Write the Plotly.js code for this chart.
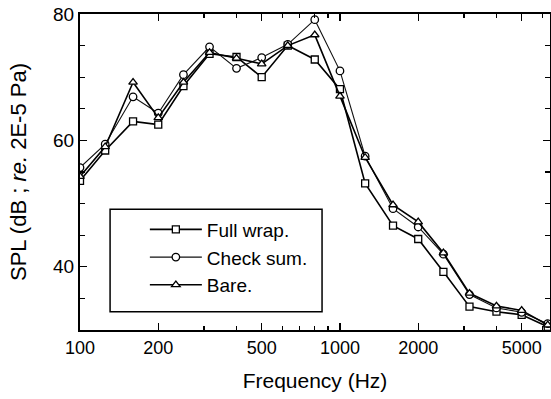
<!DOCTYPE html>
<html>
<head>
<meta charset="utf-8">
<script src="https://cdn.plot.ly/plotly-3.0.1.min.js"></script>
<style>html,body{margin:0;padding:0;background:#fff;}#chart{width:551px;height:399px;}</style>
</head>
<body>
<div id="chart"></div>
<script>
const freq = [100,125,160,200,250,315,400,500,630,800,1000,1250,1600,2000,2500,3150,4000,5000,6300];
const fullWrap = [53.6,58.4,63.0,62.5,68.6,73.7,73.2,70.0,75.0,72.8,68.1,53.2,46.5,44.4,39.2,33.7,32.9,32.4,30.5];
const checkSum = [55.7,59.4,66.9,64.3,70.4,74.8,71.4,73.1,75.2,79.1,71.0,57.5,49.2,46.3,42.0,35.6,33.5,32.8,31.0];
const bare = [54.3,59.0,69.2,63.6,69.2,73.9,73.0,72.1,75.0,76.7,67.0,57.3,49.8,47.1,42.2,35.8,33.8,33.1,30.8];
const seriesNames = ["Full wrap.","Check sum.","Bare."];
const xTickVals = [100,200,500,1000,2000,5000];
const xMinorVals = [300,400,600,700,800,900,3000,4000,6000];

const fam = "Liberation Sans, Arial, sans-serif";
const mk = (sym, size) => ({symbol: sym, size: size, color: "#fff", line: {color: "#000", width: 1.3}});

const traces = [
  {x: freq, y: fullWrap, name: seriesNames[0], mode: "lines+markers", line: {color: "#000", width: 1.6}, marker: mk("square", 7)},
  {x: freq, y: checkSum, name: seriesNames[1], mode: "lines+markers", line: {color: "#111", width: 1.1}, marker: mk("circle", 7.5)},
  {x: freq, y: bare, name: seriesNames[2], mode: "lines+markers", line: {color: "#000", width: 1.6}, marker: mk("triangle-up", 7.5)}
];

const layout = {
  width: 551, height: 399,
  margin: {l: 80, r: 1, t: 14, b: 69},
  paper_bgcolor: "#fff", plot_bgcolor: "#fff",
  font: {family: fam, size: 18, color: "#000"},
  showlegend: true,
  legend: {x: 0.138, y: 0.378, xanchor: "left", yanchor: "top", bgcolor: "rgba(0,0,0,0)", borderwidth: 0, font: {family: fam, size: 19, color: "#000"}, itemwidth: 52, tracegroupgap: 0},
  xaxis: {
    type: "log", range: [2, 3.808],
    tickmode: "array", tickvals: xTickVals, ticktext: xTickVals.map(String),
    ticks: "inside", ticklen: 7, tickwidth: 1.3, tickcolor: "#000",
    minor: {tickmode: "array", tickvals: xMinorVals, ticks: "inside", ticklen: 4, tickwidth: 1.2, tickcolor: "#000"},
    showline: true, linewidth: 2, linecolor: "#000", mirror: "ticks",
    showgrid: false, zeroline: false,
    tickfont: {family: fam, size: 18, color: "#000"},
    title: {text: "Frequency (Hz)", font: {family: fam, size: 21, color: "#000"}, standoff: 17}
  },
  yaxis: {
    range: [30, 80], tickmode: "array", tickvals: [40,60,80],
    ticks: "inside", ticklen: 7, tickwidth: 1.3, tickcolor: "#000",
    minor: {dtick: 5, ticks: "inside", ticklen: 5, tickwidth: 1.2, tickcolor: "#000"},
    showline: true, linewidth: 2, linecolor: "#000", mirror: "ticks",
    showgrid: false, zeroline: false,
    tickfont: {family: fam, size: 19, color: "#000"},
    title: {text: "SPL (dB ; <i>re.</i> 2E-5 Pa)", font: {family: fam, size: 22, color: "#000"}, standoff: 20}
  },
  shapes: [
    {type: "rect", xref: "paper", yref: "paper", x0: 0.064, x1: 0.515, y0: 0.058, y1: 0.382, line: {color: "#000", width: 1.5}, fillcolor: "rgba(0,0,0,0)"}
  ]
};

Plotly.newPlot("chart", traces, layout, {displayModeBar: false, staticPlot: true});
</script>
</body>
</html>
